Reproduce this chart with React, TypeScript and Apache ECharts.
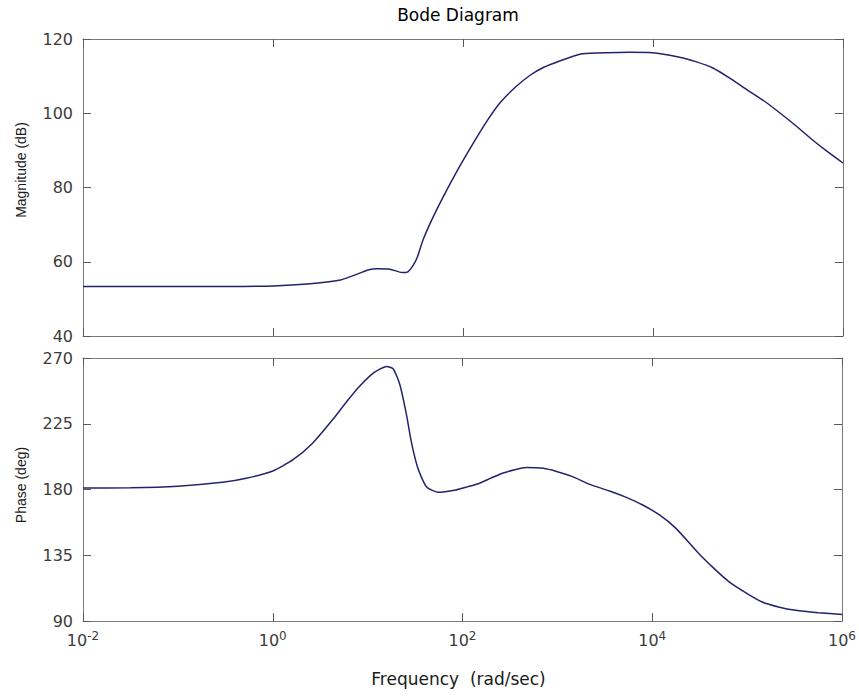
import React, { useEffect, useRef } from 'react';
import * as echarts from 'echarts';

// Frequency as log10(rad/sec)
const magLogFreq = [
  -2, -1, -0.5, 0, 0.36, 0.71, 0.9, 1.0, 1.1, 1.23, 1.36, 1.42, 1.47, 1.52, 1.58, 1.67,
  1.79, 1.95, 2.11, 2.25, 2.39, 2.55, 2.71, 2.85, 2.99, 3.13, 3.26, 3.52, 3.75, 3.99,
  4.28, 4.45, 4.63, 4.8, 4.99, 5.17, 5.34, 5.51, 5.68, 5.84, 6,
];
const magDb = [
  53.3, 53.3, 53.35, 53.5, 54.0, 55.1, 56.8, 57.8, 58.1, 58.0, 57.1, 57.3, 58.8, 61.3, 65.9, 71.2,
  77.4, 85.0, 92.0, 97.8, 102.8, 107.0, 110.3, 112.4, 113.8, 115.1, 116.0, 116.3, 116.4, 116.3,
  115.1, 113.9, 112.2, 109.6, 106.3, 103.3, 100.0, 96.5, 92.8, 89.6, 86.6,
];

const phaseLogFreq = [
  -2, -1.5, -1, -0.53, -0.28, 0, 0.21, 0.42, 0.63, 0.78, 0.92, 1.06, 1.2, 1.27, 1.34, 1.41,
  1.46, 1.53, 1.62, 1.74, 1.93, 2.05, 2.18, 2.3, 2.42, 2.55, 2.67, 2.85, 3.0, 3.16, 3.34, 3.55, 3.72, 3.9, 4.08, 4.25, 4.49,
  4.65, 4.81, 5.0, 5.16, 5.33, 5.51, 5.75, 6,
];
const phaseDeg = [
  181.0, 181.2, 182.3, 184.9, 187.7, 192.7, 200.2, 211.7, 227.7, 240.2, 251.0, 259.7, 264.2, 262.5, 251.7, 231.1,
  212.8, 194.5, 181.9, 178.1, 179.7, 181.8, 184.3, 187.8, 191.1, 193.5, 195.0, 194.5, 192.2, 188.8, 183.5, 179.0, 174.8, 169.4, 162.4, 153.4, 136.2,
  126.0, 116.8, 108.8, 103.0, 99.6, 97.3, 95.7, 94.5,
];

const freqRange = [0.01, 1e6];
const magRange = [40, 120];
const magStep = 20;
const phaseRange = [90, 270];
const phaseStep = 45;

const FRAME = '#7a7a7a';
const TICK = '#5a5a5a';
const LABEL = '#3c3c3c';
const NAME = '#1a1a1a';
const LINE = '#23236b';
const HFONT = "'DejaVu Sans', sans-serif";
const VFONT = "'Liberation Sans', Arial, sans-serif";

function xAxis(gridIndex: number, position: string, withLabels: boolean, name?: string) {
  return {
    type: 'log',
    logBase: 100,
    gridIndex,
    position,
    min: freqRange[0],
    max: freqRange[1],
    name: name || '',
    nameLocation: 'middle',
    nameGap: 49,
    nameTextStyle: { fontSize: 17, fontFamily: HFONT, color: NAME, padding: [0, 8, 0, 0] },
    axisLine: { show: true, onZero: false, lineStyle: { color: FRAME, width: 1 } },
    axisTick: { show: true, inside: true, length: 8, lineStyle: { color: TICK, width: 1 } },
    minorTick: { show: false },
    splitLine: { show: false },
    axisLabel: withLabels
      ? {
          margin: 9,
          formatter: (v: number) => `{b|10}{e|${Math.round(Math.log10(v))}}`,
          rich: {
            b: { fontSize: 16, fontFamily: HFONT, color: LABEL, lineHeight: 18, padding: [9, 0, 0, 0], verticalAlign: 'bottom' },
            e: { fontSize: 12, fontFamily: HFONT, color: LABEL, lineHeight: 12, verticalAlign: 'top' },
          },
        }
      : { show: false },
  };
}

function yAxis(gridIndex: number, position: string, range: number[], step: number, withLabels: boolean, name?: string, shift?: number) {
  return {
    type: 'value',
    gridIndex,
    position,
    min: range[0],
    max: range[1],
    interval: step,
    name: name || '',
    nameLocation: 'middle',
    nameRotate: 90,
    nameGap: 55,
    nameTextStyle: { fontSize: 14, fontFamily: VFONT, color: NAME, padding: [0, 0, 0, shift || 0] },
    axisLine: { show: true, onZero: false, lineStyle: { color: FRAME, width: 1 } },
    axisTick: { show: true, inside: true, length: 8, lineStyle: { color: TICK, width: 1 } },
    splitLine: { show: false },
    axisLabel: withLabels ? { margin: 10, fontSize: 16, fontFamily: HFONT, color: LABEL } : { show: false },
  };
}

export default function App() {
  const ref = useRef<HTMLDivElement>(null);
  useEffect(() => {
    document.body.style.margin = '0';
    if (!ref.current) return;
    const chart = echarts.init(ref.current, null, { renderer: 'svg' });
    chart.setOption({
      animation: false,
      backgroundColor: '#ffffff',
      title: {
        text: 'Bode Diagram',
        left: 458,
        top: 6,
        padding: 0,
        textAlign: 'center',
        textStyle: { fontSize: 17, fontWeight: 'normal', fontFamily: HFONT, color: '#000' },
      },
      grid: [
        { left: 83, top: 39, width: 760, height: 297 },
        { left: 83, top: 358, width: 760, height: 263 },
      ],
      xAxis: [
        xAxis(0, 'bottom', false),
        xAxis(1, 'bottom', true, 'Frequency  (rad/sec)'),
        xAxis(0, 'top', false),
        xAxis(1, 'top', false),
      ],
      yAxis: [
        yAxis(0, 'left', magRange, magStep, true, 'Magnitude (dB)', 35),
        yAxis(1, 'left', phaseRange, phaseStep, true, 'Phase (deg)', 9),
        yAxis(0, 'right', magRange, magStep, false),
        yAxis(1, 'right', phaseRange, phaseStep, false),
      ],
      series: [
        {
          type: 'line',
          xAxisIndex: 0,
          yAxisIndex: 0,
          data: magLogFreq.map((e, i) => [Math.pow(10, e), magDb[i]]),
          symbol: 'none',
          smooth: 0.2,
          lineStyle: { color: LINE, width: 1.5 },
        },
        {
          type: 'line',
          xAxisIndex: 1,
          yAxisIndex: 1,
          data: phaseLogFreq.map((e, i) => [Math.pow(10, e), phaseDeg[i]]),
          symbol: 'none',
          smooth: 0.2,
          lineStyle: { color: LINE, width: 1.5 },
        },
      ],
    });
    return () => chart.dispose();
  }, []);
  return <div ref={ref} style={{ width: 859, height: 696 }} />;
}
